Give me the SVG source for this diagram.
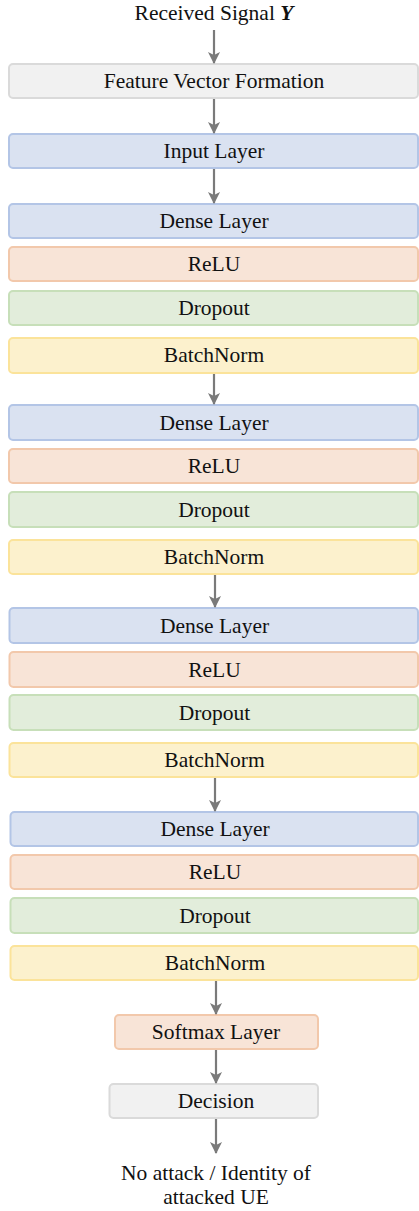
<svg xmlns="http://www.w3.org/2000/svg" width="419" height="1211" viewBox="0 0 419 1211">
  <style>
    text { font-family: "Liberation Serif", "Times New Roman", serif; font-size: 21.5px; fill: #111; text-anchor: middle; }
    rect { stroke-width: 2; }
    .gray { fill: #f1f1f1; stroke: #dadada; }
    .blue { fill: #dae2f1; stroke: #b3c5e6; }
    .orange { fill: #f8e4d7; stroke: #f2c8ab; }
    .green { fill: #e2eddb; stroke: #c7dfb9; }
    .yellow { fill: #fcf1cd; stroke: #fbe39a; }
    .edge { stroke: #7a7a7a; stroke-width: 2.2; fill: none; marker-end: url(#head); }
  </style>
  <defs>
    <marker id="head" viewBox="0 0 12 12" refX="11" refY="6" markerWidth="12" markerHeight="12" markerUnits="userSpaceOnUse" orient="auto">
      <path d="M0,0 L12,6 L0,12 L3,6 z" fill="#7a7a7a"/>
    </marker>
  </defs>

  <!-- input label -->
  <g id="signal">
    <text x="214" y="20">Received Signal <tspan font-weight="bold" font-style="italic">Y</tspan></text>
  </g>

  <g id="feature">
    <rect class="gray" x="9" y="64" width="409" height="34" rx="4"/>
    <text x="214" y="88">Feature Vector Formation</text>
  </g>
  <g id="input">
    <rect class="blue" x="9" y="134" width="409" height="34" rx="4"/>
    <text x="214" y="158">Input Layer</text>
  </g>

  <!-- block 1 -->
  <g id="dense1">
    <rect class="blue" x="9" y="204" width="409" height="34" rx="4"/>
    <text x="214" y="228">Dense Layer</text>
  </g>
  <g id="relu1">
    <rect class="orange" x="9" y="247" width="409" height="34" rx="4"/>
    <text x="214" y="271">ReLU</text>
  </g>
  <g id="dropout1">
    <rect class="green" x="9" y="291" width="409" height="34" rx="4"/>
    <text x="214" y="315">Dropout</text>
  </g>
  <g id="bn1">
    <rect class="yellow" x="9" y="338" width="409" height="35" rx="4"/>
    <text x="214" y="362">BatchNorm</text>
  </g>

  <!-- block 2 -->
  <g id="dense2">
    <rect class="blue" x="9" y="405" width="409" height="35" rx="4"/>
    <text x="214" y="430">Dense Layer</text>
  </g>
  <g id="relu2">
    <rect class="orange" x="9" y="449" width="409" height="34" rx="4"/>
    <text x="214" y="473">ReLU</text>
  </g>
  <g id="dropout2">
    <rect class="green" x="9" y="492" width="409" height="35" rx="4"/>
    <text x="214" y="517">Dropout</text>
  </g>
  <g id="bn2">
    <rect class="yellow" x="9" y="540" width="409" height="34" rx="4"/>
    <text x="214" y="564">BatchNorm</text>
  </g>

  <!-- block 3 -->
  <g id="dense3">
    <rect class="blue" x="9.5" y="608" width="408.5" height="35" rx="4"/>
    <text x="214.5" y="633">Dense Layer</text>
  </g>
  <g id="relu3">
    <rect class="orange" x="9.5" y="652" width="408.5" height="35" rx="4"/>
    <text x="214.5" y="677">ReLU</text>
  </g>
  <g id="dropout3">
    <rect class="green" x="9.5" y="695" width="408.5" height="35" rx="4"/>
    <text x="214.5" y="720">Dropout</text>
  </g>
  <g id="bn3">
    <rect class="yellow" x="9.5" y="743" width="408.5" height="34" rx="4"/>
    <text x="214.5" y="767">BatchNorm</text>
  </g>

  <!-- block 4 -->
  <g id="dense4">
    <rect class="blue" x="10.5" y="812" width="407.5" height="34" rx="4"/>
    <text x="215" y="836">Dense Layer</text>
  </g>
  <g id="relu4">
    <rect class="orange" x="10.5" y="855" width="407.5" height="34" rx="4"/>
    <text x="215" y="879">ReLU</text>
  </g>
  <g id="dropout4">
    <rect class="green" x="10.5" y="898" width="407.5" height="35" rx="4"/>
    <text x="215" y="923">Dropout</text>
  </g>
  <g id="bn4">
    <rect class="yellow" x="10.5" y="946" width="407.5" height="34" rx="4"/>
    <text x="215" y="970">BatchNorm</text>
  </g>

  <g id="softmax">
    <rect class="orange" x="115" y="1015" width="203" height="34" rx="4"/>
    <text x="216" y="1039">Softmax Layer</text>
  </g>
  <g id="decision">
    <rect class="gray" x="109.5" y="1084" width="208.5" height="34" rx="4"/>
    <text x="216" y="1108">Decision</text>
  </g>

  <g id="output">
    <text x="216" y="1180">No attack / Identity of</text>
    <text x="216" y="1204">attacked UE</text>
  </g>

  <g id="connectors">
    <path class="edge" d="M214,30 V63"/>
    <path class="edge" d="M214,99 V133"/>
    <path class="edge" d="M214,169 V203"/>
    <path class="edge" d="M214,374 V404"/>
    <path class="edge" d="M215,575 V607"/>
    <path class="edge" d="M215,778 V811"/>
    <path class="edge" d="M216,981 V1014"/>
    <path class="edge" d="M216,1050 V1083"/>
    <path class="edge" d="M216,1119 V1153"/>
  </g>
</svg>
